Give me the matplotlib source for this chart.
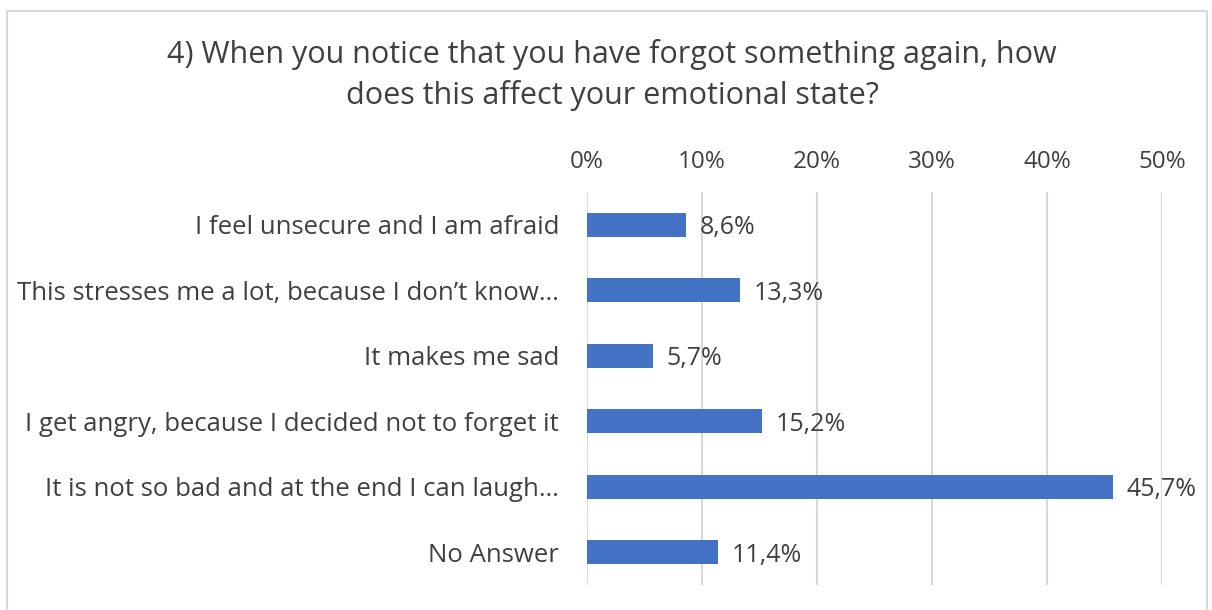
import matplotlib.pyplot as plt
from matplotlib.patches import Rectangle

# survey answers, top to bottom
answers = [
    'I feel unsecure and I am afraid',
    'This stresses me a lot, because I don\u2019t know\u2026',
    'It makes me sad',
    'I get angry, because I decided not to forget it',
    'It is not so bad and at the end I can laugh\u2026',
    'No Answer',
]
shares = [8.6, 13.3, 5.7, 15.2, 45.7, 11.4]
ticks = [0, 10, 20, 30, 40, 50]

bar_color = '#4472C4'
text_color = '#404040'
grid_color = '#D9D9D9'

plt.rcParams['font.family'] = ['Open Sans', 'DejaVu Sans']

fig = plt.figure(figsize=(12.12, 6.10), dpi=100)
fig.patches.append(Rectangle((7 / 1212, -0.01), 1200 / 1212, 1 - 11 / 610 + 0.01,
                             transform=fig.transFigure, fill=False,
                             edgecolor='#D9D9D9', linewidth=1.5))

ax = fig.add_axes([587 / 1212, 25 / 610, 575 / 1212, 393 / 610])
pos = list(range(len(answers)))
ax.barh(pos, shares, height=0.36, color=bar_color, zorder=3)
ax.set_ylim(len(answers) - 0.5, -0.5)
ax.set_xlim(0, 50)

ax.set_xticks(ticks)
ax.set_xticklabels(['{}%'.format(t) for t in ticks])
ax.xaxis.tick_top()
ax.tick_params(axis='x', length=0, pad=13, labelsize=17.5, labelcolor=text_color)
ax.set_yticks(pos)
ax.set_yticklabels(answers)
ax.tick_params(axis='y', length=0, pad=20, labelsize=18.5, labelcolor=text_color)
for lbl in ax.get_yticklabels():
    lbl.set_va('center_baseline')

ax.grid(axis='x', color=grid_color, linewidth=1.5, zorder=0)
for s in ax.spines.values():
    s.set_visible(False)

for p, v in zip(pos, shares):
    ax.text(v + 1.2, p, '{:.1f}%'.format(v).replace('.', ','), va='center_baseline', ha='left',
            fontsize=18, color=text_color)

fig.text(612 / 1212, 1 - 75 / 610,
         '4) When you notice that you have forgot something again, how\ndoes this affect your emotional state?',
         ha='center', va='center', fontsize=22, color=text_color, linespacing=1.45)

fig.savefig('out.png', dpi=100)
